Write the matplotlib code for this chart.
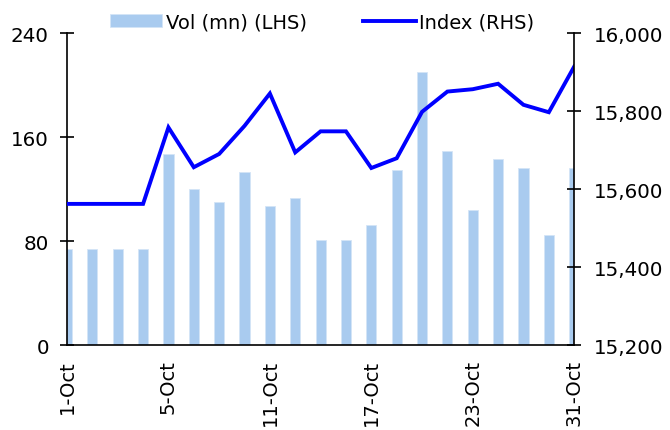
"""Volume vs index chart, October."""

import matplotlib
matplotlib.use('Agg')
import matplotlib.pyplot as plt
import numpy as np

# data
dates = ['1-Oct', '2-Oct', '3-Oct', '4-Oct', '5-Oct', '8-Oct', '9-Oct',
         '10-Oct', '11-Oct', '12-Oct', '15-Oct', '16-Oct', '17-Oct',
         '18-Oct', '19-Oct', '22-Oct', '23-Oct', '24-Oct', '25-Oct',
         '26-Oct', '31-Oct']
volume = [74, 74, 74, 74, 147, 120, 110, 133, 107, 113, 81, 81, 92,
          135, 210, 149, 104, 143, 136, 85, 136]
index_level = [15562, 15562, 15562, 15562, 15758, 15656, 15690, 15762,
               15845, 15694, 15748, 15748, 15654, 15679, 15798, 15850,
               15856, 15870, 15816, 15797, 15914]

bar_color = '#A9CBEF'
line_color = '#0000FF'

plt.rcParams['font.family'] = ['DejaVu Sans']

fig = plt.figure(figsize=(6.7, 4.31), dpi=100)
ax = fig.add_axes([0.1, 0.197, 0.757, 0.724])
ax2 = ax.twinx()

x = np.arange(len(dates))
bars = ax.bar(x, volume, width=0.4, color=bar_color, edgecolor='#D4E4F7',
              linewidth=0.6, label='Vol (mn) (LHS)')
line, = ax2.plot(x, index_level, color=line_color, linewidth=2.8,
                 solid_joinstyle='miter', label='Index (RHS)')

ax.set_xlim(0, len(dates) - 1)
ax.set_ylim(0, 240)
ax.set_yticks([0, 80, 160, 240])
ax2.set_ylim(15200, 16000)
ax2.set_yticks([15200, 15400, 15600, 15800, 16000])
ax2.set_yticklabels([f'{v:,}' for v in range(15200, 16001, 200)])

ticks = x[::4]
ax.set_xticks(ticks)
ax.set_xticklabels([dates[i] for i in ticks], rotation=90)

for a in (ax, ax2):
    a.spines['top'].set_visible(False)
    for s in a.spines.values():
        s.set_linewidth(1.2)
ax.spines['right'].set_visible(False)
ax2.spines['left'].set_visible(False)
ax2.spines['bottom'].set_visible(False)

ax.tick_params(axis='y', direction='inout', length=10, width=1.2,
               labelsize=14.3, pad=8)
ax.tick_params(axis='x', length=0, labelsize=14, pad=10)
ax2.tick_params(axis='y', direction='inout', length=10, width=1.2,
                labelsize=14.3, pad=9)

fig.legend(handles=[bars, line], loc='center', bbox_to_anchor=(0.481, 0.947),
           ncol=2, frameon=False, fontsize=14, handlelength=2.68,
           handleheight=0.6, handletextpad=0.2, columnspacing=2.9,
           borderpad=0, borderaxespad=0)

fig.savefig('out.png', dpi=100, facecolor='white')
